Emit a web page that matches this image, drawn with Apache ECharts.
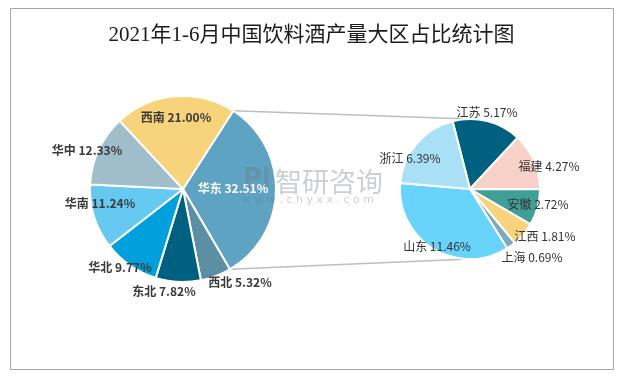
<!DOCTYPE html>
<html>
<head>
<meta charset="utf-8">
<script src="https://cdn.jsdelivr.net/npm/echarts@6/dist/echarts.min.js"></script>
<style>
html, body { margin: 0; padding: 0; background: #fff; }
#result { width: 623px; height: 376px; }
</style>
</head>
<body>
<div id="result"></div>
<script>
var regionNames = ['华东', '西北', '东北', '华北', '华南', '华中', '西南'];
var regionShare = [32.51, 5.32, 7.82, 9.77, 11.24, 12.33, 21.00];
var regionColors = ['#5fa3c3', '#5b8fa3', '#006080', '#00a0dc', '#66c9f2', '#9fbdcb', '#f7d37b'];

var eastNames = ['江苏', '福建', '安徽', '江西', '上海', '山东', '浙江'];
var eastShare = [5.17, 4.27, 2.72, 1.81, 0.69, 11.46, 6.39];
var eastColors = ['#006080', '#f8d1c9', '#3f9e96', '#f7d37b', '#7fa9b9', '#68d3fb', '#a9e0f6'];

// label spots, offset from pie centre
var regionSpots = [[50, -1], [57, 93], [-19, 102], [-63, 78], [-83, 14], [-96, -39], [-7, -72]];
var eastSpots = [[17, -77], [79, -23], [68, 15], [75, 47], [62, 68], [-33, 57], [-60, -31]];

var leftC = [183, 189], leftR = 93, leftStart = 57.3;
var rightC = [470, 189], rightR = 70, rightStart = 104.4;

var myChart = echarts.init(document.getElementById('result'));

function build(names, vals, colors) {
	return names.map(function (n, i) {
		return { name: n, value: vals[i], itemStyle: { color: colors[i] } };
	});
}

function pt(c, r, deg) {
	var a = deg * Math.PI / 180;
	return [c[0] + r * Math.cos(a), c[1] - r * Math.sin(a)];
}

/* 连接线: 华东扇区两条边 -> 右侧饼图顶部/底部 */
var total = regionShare.reduce(function (a, b) { return a + b; }, 0);
var endAngle = leftStart - 360 * regionShare[0] / total;
var p1 = pt(leftC, leftR, leftStart);
var p2 = pt(leftC, leftR, endAngle);
var q1 = [rightC[0], rightC[1] - rightR];
var q2 = [rightC[0], rightC[1] + rightR];

function spotLayout(c, spots) {
	return function (p) {
		var s = spots[p.dataIndex];
		return { x: c[0] + s[0], y: c[1] + s[1], align: 'center', verticalAlign: 'middle' };
	};
}

var wm = 'rgba(110,120,130,0.35)';

var option = {
	backgroundColor: '#fff',
	title: {
		text: '2021年1-6月中国饮料酒产量大区占比统计图',
		left: 'center',
		top: 20,
		textStyle: {
			fontFamily: 'Liberation Serif, Noto Sans CJK SC',
			fontSize: 21,
			fontWeight: 'normal',
			color: '#1a1a1a'
		}
	},
	graphic: [
		{ type: 'rect', shape: { x: 10.5, y: 8.5, width: 603, height: 361 }, style: { fill: 'none', stroke: '#a6a6a6', lineWidth: 1 }, z: 0 },
		{ type: 'line', shape: { x1: p1[0], y1: p1[1], x2: q1[0], y2: q1[1] }, style: { stroke: '#bdbdbd', lineWidth: 1.5 }, z: 1 },
		{ type: 'line', shape: { x1: p2[0], y1: p2[1], x2: q2[0], y2: q2[1] }, style: { stroke: '#bdbdbd', lineWidth: 1.5 }, z: 1 },
		{ type: 'text', x: 243, y: 167, style: { text: 'Pi', font: 'bold 26px "DejaVu Sans"', fill: wm }, z: 100 },
		{ type: 'text', x: 275, y: 168, style: { text: '智研咨询', font: '27px "Noto Sans CJK SC"', fill: wm }, z: 100 },
		{ type: 'text', x: 242, y: 195, style: { text: 'w w w . c h y x x . c o m', font: '11px "DejaVu Sans"', fill: wm }, z: 100 }
	],
	series: [{
		type: 'pie',
		center: leftC,
		radius: leftR,
		startAngle: leftStart,
		clockwise: true,
		z: 3,
		itemStyle: { borderColor: '#fff', borderWidth: 2 },
		label: {
			show: true,
			position: 'inside',
			formatter: function (p) { return p.name + ' ' + p.value.toFixed(2) + '%'; },
			fontFamily: 'Noto Sans CJK SC',
			fontSize: 12,
			fontWeight: 'bold',
			color: '#3a3a3a'
		},
		labelLine: { show: false },
		labelLayout: spotLayout(leftC, regionSpots),
		emphasis: { disabled: true },
		data: build(regionNames, regionShare, regionColors)
	}, {
		type: 'pie',
		center: rightC,
		radius: rightR,
		startAngle: rightStart,
		clockwise: true,
		z: 3,
		itemStyle: { borderColor: '#fff', borderWidth: 2 },
		label: {
			show: true,
			position: 'inside',
			formatter: function (p) { return p.name + ' ' + p.value.toFixed(2) + '%'; },
			fontFamily: 'Noto Sans CJK SC',
			fontSize: 12,
			color: '#333'
		},
		labelLine: { show: false },
		labelLayout: spotLayout(rightC, eastSpots),
		emphasis: { disabled: true },
		data: build(eastNames, eastShare, eastColors)
	}]
};

option.series[0].data[0].label = { color: '#fff' };

myChart.setOption(option);
</script>
</body>
</html>
